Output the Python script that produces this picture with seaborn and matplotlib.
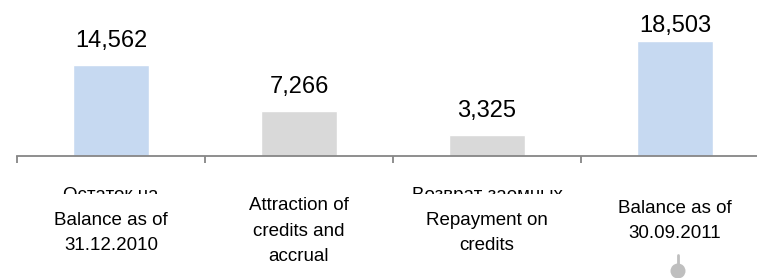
import matplotlib
matplotlib.use("Agg")
import matplotlib.pyplot as plt
import matplotlib.transforms as mtrans
from matplotlib.patches import Rectangle, Circle
from matplotlib.lines import Line2D
import seaborn as sns
import pandas as pd

# ---- data ----
categories = ["Balance as of\n31.12.2010", "Attraction of\ncredits and\naccrual",
              "Repayment on\ncredits", "Balance as of\n30.09.2011"]
values = [14562, 7266, 3325, 18503]
value_labels = ["14,562", "7,266", "3,325", "18,503"]
hidden_ru_labels = ["Остаток на", "", "Возврат заемных", ""]
bar_kinds = ["balance", "flow", "flow", "balance"]

palette = {"balance": "#c6d9f1", "flow": "#d9d9d9"}

sns.set_theme(style="white")
plt.rcParams["font.family"] = ["Liberation Sans", "DejaVu Sans"]

W, H = 757, 278
fig = plt.figure(figsize=(W / 100, H / 100), dpi=100)
ax_left, ax_right = 17, 769
ax_top, ax_base = 13, 156
ax = fig.add_axes([ax_left / W, (H - ax_base) / H, (ax_right - ax_left) / W, (ax_base - ax_top) / H])

df = pd.DataFrame({"cat": categories, "value": values, "kind": bar_kinds})
sns.barplot(data=df, x="cat", y="value", hue="kind", palette=palette, dodge=False,
            width=0.4, legend=False, ax=ax, saturation=1)

px_per_unit = 160.5
ymax = (ax_base - ax_top) * px_per_unit
ax.set_xlim(-0.5, 3.5)
ax.set_ylim(0, ymax)

for s in ["top", "right", "left"]:
    ax.spines[s].set_visible(False)
ax.spines["bottom"].set_color("#868686")
ax.spines["bottom"].set_linewidth(1.3)
ax.set_yticks([])
ax.set_xticks([])
ax.set_xticks([-0.5, 0.5, 1.5, 2.5, 3.5], minor=True)
ax.tick_params(axis="x", which="minor", direction="out", length=5, width=1.3,
               color="#868686", bottom=True, labelbottom=False)
ax.set_xlabel("")
ax.set_ylabel("")

# value labels
gap = 18 * px_per_unit
cap = ymax - 19 * px_per_unit
for i, (v, lab) in enumerate(zip(values, value_labels)):
    ax.text(i, min(v + gap, cap), lab, ha="center", va="baseline", fontsize=17, color="#000000")

# category labels (figure pixel y, data x)
tr = mtrans.blended_transform_factory(ax.transData, fig.transFigure)
for i, ru in enumerate(hidden_ru_labels):
    if ru:
        fig.text(i, (H - 200) / H, ru, transform=tr, ha="center", va="baseline",
                 fontsize=13.5, color="#000000", zorder=1)
fig.patches.append(Rectangle((0, 0), 1, (H - 194) / H, transform=fig.transFigure,
                             facecolor="white", edgecolor="none", zorder=2))
label_centers = [233, 231, 233, 221]
for i, (lab, yc) in enumerate(zip(categories, label_centers)):
    fig.text(i, (H - yc) / H, lab, transform=tr, ha="center", va="center",
             fontsize=13.5, color="#000000", linespacing=1.62, zorder=3)

# grey pin marker below last category
pin_x = 3 + 3 / 188
fig.lines.append(Line2D([pin_x, pin_x], [(H - 255) / H, (H - 266) / H], transform=tr,
                        color="#bfbfbf", linewidth=2, zorder=4))
pin = Circle((0, 0), 7.5, transform=mtrans.IdentityTransform(),
             facecolor="#bfbfbf", edgecolor="none", zorder=4)
fig.patches.append(pin)
fig.canvas.draw()
disp = tr.transform((pin_x, (H - 271) / H))
pin.center = (disp[0], disp[1])

fig.savefig("out.png", dpi=100)
